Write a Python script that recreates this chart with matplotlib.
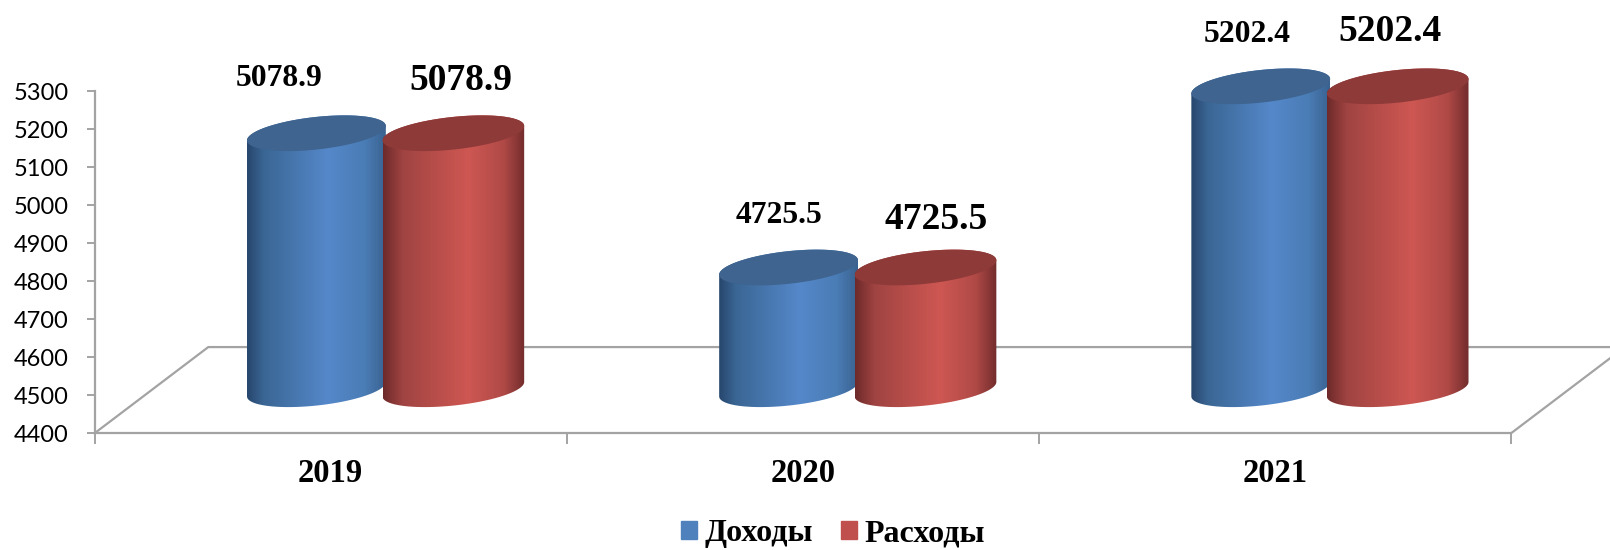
import numpy as np
import matplotlib
matplotlib.use('Agg')
import matplotlib.pyplot as plt
from matplotlib.colors import LinearSegmentedColormap
from matplotlib.patches import Patch, Polygon

# Data
years = ['2019', '2020', '2021']
income = [5078.9, 4725.5, 5202.4]
expense = [5078.9, 4725.5, 5202.4]
series_names = ['Доходы', 'Расходы']
y_ticks = [4400, 4500, 4600, 4700, 4800, 4900, 5000, 5100, 5200, 5300]

# label offsets from the bar's top, pixels
income_label_off = [(-37, 97), (-10, 94), (-14, 94)]
expense_label_off = [(8, 95), (11, 90), (-8, 97)]

W, H = 1610, 550
GREY = '#a3a3a3'
SERIF = 'Liberation Serif'

fig = plt.figure(figsize=(W / 100, H / 100), dpi=100)
ax = fig.add_axes([94.5 / W, 1 - 433.3 / H, (1511 - 94.5) / W, (433.3 - 91.4) / H])

# 3D look: floor depth in data units
depth_x = 0.241
depth_y = 227
base_lift = 116
top_lift = 111
ell_half = 47
ell_skew = 19

blue_cmap = LinearSegmentedColormap.from_list('b', [
    (0, '#27466d'), (0.12, '#3a6694'), (0.58, '#5588ca'), (0.85, '#4a7cb5'), (1, '#3a6290')])
red_cmap = LinearSegmentedColormap.from_list('r', [
    (0, '#6e2a2a'), (0.14, '#a04442'), (0.6, '#ce5752'), (0.85, '#b04a47'), (1, '#722c2c')])


def cylinder(xc, half_w, value, cmap, top_color, z):
    bot = 4400 + base_lift
    top = value + top_lift
    b = np.sqrt(ell_half ** 2 - ell_skew ** 2)
    t = np.linspace(0, np.pi, 80)
    # upper half of the top ellipse, right to left
    xs_top = xc + half_w * np.cos(t)
    ys_top = top + b * np.sin(t) + ell_skew * np.cos(t)
    # lower half of the bottom ellipse, left to right
    xs_bot = xc - half_w * np.cos(t)
    ys_bot = bot - b * np.sin(t) - ell_skew * np.cos(t)
    verts = np.column_stack([np.r_[xs_top, xs_bot], np.r_[ys_top, ys_bot]])
    body = Polygon(verts, closed=True, transform=ax.transData, facecolor='none', edgecolor='none')
    ax.add_patch(body)
    body.set_clip_on(False)
    grad = np.linspace(0, 1, 256).reshape(1, -1)
    im = ax.imshow(grad, cmap=cmap, aspect='auto', zorder=z, interpolation='bilinear',
                   extent=[xc - half_w, xc + half_w, bot - 100, top + 100])
    # the tall bars stick out above the axes
    im.set_clip_box(fig.bbox)
    im.set_clip_path(body)
    # top cap
    t2 = np.linspace(0, 2 * np.pi, 160)
    cap = np.column_stack([xc + half_w * np.cos(t2),
                           top + b * np.sin(t2) + ell_skew * np.cos(t2)])
    ax.add_patch(Polygon(cap, closed=True, facecolor=top_color, edgecolor='none', zorder=z + 0.1,
                         clip_on=False))


for i in range(3):
    cylinder(i + 0.47, 0.147, income[i], blue_cmap, '#3e648f', 3)
    cylinder(i + 0.76, 0.150, expense[i], red_cmap, '#8e3a39', 4)
    ax.annotate(f'{income[i]:.1f}', xy=(i + 0.47, income[i]), xytext=income_label_off[i],
                textcoords='offset pixels', ha='center', va='center', fontsize=22.8,
                fontweight='bold', family=SERIF, zorder=6, annotation_clip=False)
    ax.annotate(f'{expense[i]:.1f}', xy=(i + 0.76, expense[i]), xytext=expense_label_off[i],
                textcoords='offset pixels', ha='center', va='center', fontsize=27,
                fontweight='bold', family=SERIF, zorder=6, annotation_clip=False)

# floor
ax.plot([0, depth_x, 3 + depth_x, 3], [4400, 4400 + depth_y, 4400 + depth_y, 4400],
        color=GREY, lw=1.6, clip_on=False, zorder=1)

ax.set_xlim(0, 3)
ax.set_ylim(4400, 5300)
for s in ['top', 'right']:
    ax.spines[s].set_visible(False)
for s in ['left', 'bottom']:
    ax.spines[s].set_color(GREY)
    ax.spines[s].set_linewidth(1.6)

ax.set_yticks(y_ticks)
ax.tick_params(axis='y', length=5.5, width=1.4, color=GREY, pad=13, labelsize=17, labelfontfamily='Lato')
ax.set_xticks([0, 1, 2, 3])
ax.set_xticklabels([])
ax.tick_params(axis='x', which='major', length=8, width=1.4, color=GREY)
ax.set_xticks([0.5, 1.5, 2.5], minor=True)
ax.set_xticklabels(years, minor=True, fontsize=23.5, fontweight='bold', family=SERIF)
ax.tick_params(axis='x', which='minor', length=0, pad=18)

handles = [Patch(color='#4f81bd', label=series_names[0]), Patch(color='#c0504d', label=series_names[1])]
fig.legend(handles=handles, loc='center', bbox_to_anchor=(833 / W, 1 - 534 / H), ncol=2, frameon=False,
           prop={'family': SERIF, 'weight': 'bold', 'size': 23}, handlelength=0.52, handleheight=0.52,
           handletextpad=0.24, columnspacing=0.85, borderpad=0)

fig.savefig('out.png', dpi=100)
